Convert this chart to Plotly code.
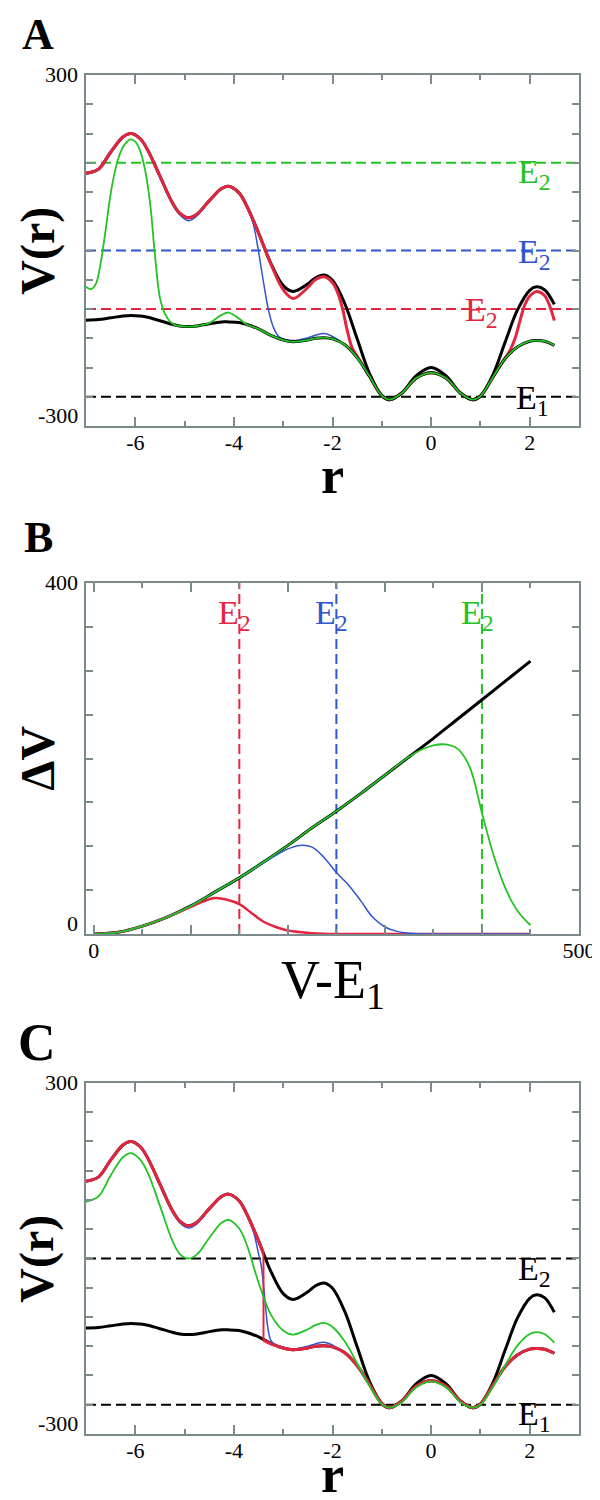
import plotly.graph_objects as go

# ---------------- panels A and C: potential along r ----------------
R = [-7, -6.75, -6.5, -6.25, -6.09, -5.9, -5.75, -5.5, -5.25, -5.1, -4.92, -4.75,
     -4.5, -4.25, -4.11, -3.9, -3.75, -3.5, -3.25, -3, -2.8, -2.5, -2.35, -2.17,
     -2, -1.75, -1.5, -1.25, -1, -0.85, -0.6, -0.3, 0, 0.3, 0.6, 0.85, 1, 1.25,
     1.5, 1.75, 2, 2.14, 2.3, 2.5]
# original potential (upper black)
V_BARE = [132, 139, 168, 194, 200, 191, 172, 127, 82, 64, 56, 62, 85, 106, 110, 99,
          78, 30, -22, -60, -70, -57, -47, -42, -51, -91, -151, -210, -248, -255,
          -244, -214, -200, -214, -244, -255, -249, -213, -157, -102, -68, -62, -67, -92]
# fully boosted potential (lower black)
V_FLAT = [-119, -118, -115, -112, -111, -112, -114, -120, -126, -129, -130, -129,
          -125, -122, -122, -123, -126, -134, -145, -153, -156, -153, -150, -149,
          -151, -161, -183, -215, -248, -255, -244, -218, -209, -218, -244, -255,
          -249, -217, -185, -165, -155, -154, -155, -162]

# panel A, E2 = -100 (red)
A_RED_R = [-7, -6.75, -6.5, -6.25, -6.09, -5.9, -5.75, -5.5, -5.25, -5.1, -4.92, -4.75,
           -4.5, -4.25, -4.11, -3.9, -3.75, -3.5, -3.25, -3, -2.8, -2.5, -2.35, -2.17,
           -2, -1.9, -1.8, -1.7, -1.6, -1.5, -1.4, -1.25, -1, -0.85, -0.6, -0.3, 0,
           0.3, 0.6, 0.85, 1, 1.25, 1.4, 1.5, 1.6, 1.7, 1.8, 1.9, 2, 2.14, 2.3, 2.5]
A_RED_V = [132, 139, 168, 194, 200, 191, 172, 127, 82, 64, 56, 62, 85, 106, 110, 99,
           78, 30, -23, -67, -82, -63, -50, -45, -55, -71, -98, -137, -167, -181,
           -194, -215, -248, -255, -244, -218, -209, -218, -244, -255, -249, -217,
           -197, -184, -171, -151, -121, -93, -78, -70, -77, -120]
# panel A, E2 = 0 (blue)
A_BLUE_R = [-7, -6.75, -6.5, -6.25, -6.09, -5.9, -5.75, -5.5, -5.25, -5.1, -4.92, -4.75,
            -4.5, -4.25, -4.11, -3.9, -3.8, -3.7, -3.6, -3.5, -3.4, -3.3, -3.2, -3.1,
            -3, -2.8, -2.5, -2.35, -2.17, -2, -1.75, -1.5, -1.25, -1, -0.85, -0.6,
            -0.3, 0, 0.3, 0.6, 0.85, 1, 1.25, 1.5, 1.75, 2, 2.14, 2.3, 2.5]
A_BLUE_V = [132, 139, 168, 194, 200, 191, 172, 127, 81, 61, 51, 59, 85, 106, 110, 99,
            86, 68, 43, -2, -54, -101, -131, -146, -151, -154, -149, -145, -142, -147,
            -161, -183, -215, -248, -255, -244, -218, -209, -218, -244, -255, -249,
            -217, -185, -165, -155, -154, -155, -162]
# panel A, E2 = 150 (green)
A_GREEN_R = [-7, -6.9, -6.8, -6.7, -6.6, -6.5, -6.4, -6.3, -6.2, -6.1, -6, -5.9, -5.8,
             -5.7, -5.6, -5.5, -5.4, -5.3, -5.2, -5.1, -4.92, -4.75, -4.5, -4.25, -4.11,
             -3.9, -3.75, -3.5, -3.25, -3, -2.8, -2.5, -2.35, -2.17, -2, -1.75, -1.5,
             -1.25, -1, -0.85, -0.6, -0.3, 0, 0.3, 0.6, 0.85, 1, 1.25, 1.5, 1.75, 2,
             2.14, 2.3, 2.5]
A_GREEN_V = [-62, -66, -57, -20, 36, 97, 140, 168, 183, 190, 186, 170, 137, 81, -9, -81,
             -108, -121, -127, -129, -130, -129, -124, -110, -106, -116, -126, -134,
             -145, -153, -156, -153, -150, -149, -151, -161, -183, -215, -248, -255,
             -244, -218, -209, -218, -244, -255, -249, -217, -185, -165, -155, -154,
             -155, -162]

# panel C, red: bare potential above E2, flat below (vertical step)
C_RED_UP_R = [-7, -6.75, -6.5, -6.25, -6.09, -5.9, -5.75, -5.5, -5.25, -5.1, -4.92,
              -4.75, -4.5, -4.25, -4.11, -3.9, -3.75, -3.5, -3.4]
C_RED_UP_V = [132, 139, 168, 194, 200, 191, 172, 127, 82, 64, 56, 62, 85, 106, 110,
              99, 78, 30, 8]
C_RED_LOW_R = [-3.4, -3.25, -3, -2.8, -2.5, -2.35, -2.17, -2, -1.75, -1.5, -1.25, -1,
               -0.85, -0.6, -0.3, 0, 0.3, 0.6, 0.85, 1, 1.25, 1.5, 1.75, 2, 2.14, 2.3, 2.5]
C_RED_LOW_V = [-140, -146, -153, -156, -153, -150, -149, -151, -161, -183, -215, -248,
               -255, -244, -218, -209, -218, -244, -255, -249, -217, -185, -165, -155,
               -154, -155, -162]
# panel C, blue
C_BLUE_R = [-7, -6.75, -6.5, -6.25, -6.09, -5.9, -5.75, -5.5, -5.25, -5.1, -4.92, -4.75,
            -4.5, -4.25, -4.11, -3.9, -3.8, -3.7, -3.6, -3.5, -3.45, -3.4, -3.35, -3.3,
            -3.25, -3.2, -3.1, -3, -2.8, -2.5, -2.35, -2.17, -2, -1.75, -1.5, -1.25,
            -1, -0.85, -0.6, -0.3, 0, 0.3, 0.6, 0.85, 1, 1.25, 1.5, 1.75, 2, 2.14, 2.3, 2.5]
C_BLUE_V = [132, 139, 168, 194, 200, 191, 172, 127, 81, 61, 52, 59, 85, 106, 110, 99,
            85, 66, 45, 8, -10, -45, -90, -125, -140, -145, -150, -153, -155, -150,
            -146, -143, -148, -161, -183, -215, -248, -255, -244, -218, -209, -218,
            -244, -255, -249, -217, -185, -165, -155, -154, -155, -162]
# panel C, green (on the R grid)
C_GREEN_V = [97, 106, 142, 173, 180, 169, 147, 90, 31, 8, 0, 7, 35, 61, 66, 52, 26,
             -41, -96, -123, -130, -121, -114, -110, -117, -142, -179, -218, -249,
             -255, -246, -220, -210, -220, -246, -255, -250, -220, -183, -149, -129,
             -126, -129, -144]

# ---------------- panel B: boost dV against V - E1 ----------------
D = [0, 25, 50, 75, 100, 125, 150, 175, 200, 225, 250, 275, 300, 325, 350, 375, 400,
     425, 450]
DV_FLAT = [0, 2, 9, 19, 32, 48, 64, 82, 101, 121, 140, 160, 181, 202, 223, 245, 267,
           289, 311]
B_RED_D = [0, 25, 50, 75, 100, 112.5, 125, 137.5, 150, 162.5, 175, 187.5, 200, 225,
           250, 300, 350, 400, 450]
B_RED_DV = [0, 2, 9, 19, 31, 37, 41, 39, 34, 24, 14, 8, 4, 1, 0, 0, 0, 0, 0]
B_BLUE_D = [0, 25, 50, 75, 100, 125, 150, 175, 200, 212.5, 225, 237.5, 250, 262.5,
            275, 287.5, 300, 312.5, 325, 350, 400, 450]
B_BLUE_DV = [0, 2, 9, 19, 32, 48, 64, 81, 97, 101, 99, 87, 70, 56, 38, 19, 8, 3, 1, 0,
             0, 0]
B_GREEN_D = [0, 25, 50, 75, 100, 125, 150, 175, 200, 225, 250, 275, 300, 325, 337.5,
             350, 362.5, 375, 387.5, 400, 412.5, 425, 437.5, 450]
B_GREEN_DV = [0, 2, 9, 19, 32, 48, 64, 82, 101, 121, 140, 160, 181, 202, 210, 215,
              216, 211, 190, 138, 88, 50, 25, 10]

# threshold levels
E_A = [150, 0, -100, -250]
E_A_TEXT = ["E<sub>2</sub>", "E<sub>2</sub>", "E<sub>2</sub>", "E<sub>1</sub>"]
E_B = [150, 250, 400]
E_C = [0, -250]
E_C_TEXT = ["E<sub>2</sub>", "E<sub>1</sub>"]

# ticks
R_TICKS = [-6, -4, -2, 0, 2]
R_TICKTEXT = ["-6", "-4", "-2", "0", "2"]
V_TICKS = [-250, -200, -150, -100, -50, 0, 50, 100, 150, 200, 250]
V_LABELS = [300, -300]
D_TICKS = [0, 100, 200, 300, 400, 500]
D_TICKTEXT = ["0", "", "", "", "", "500"]
DV_TICKS = [50, 100, 150, 200, 250, 300, 350]
DV_LABELS = [400, 0]

SERIF = "Liberation Serif"
FRAME = "#7b8b8b"
BLACK = "#000000"
RED = "#e3263f"
BLUE = "#2f55cf"
GREEN = "#22c322"
DASH = "10px,5px"

fig = go.Figure()


def add_curve(x, y, color, width, xa, ya, shape="spline"):
    fig.add_trace(go.Scatter(x=x, y=y, mode="lines", xaxis=xa, yaxis=ya,
                             line=dict(color=color, width=width, shape=shape),
                             hoverinfo="skip", showlegend=False))


# panel A
add_curve(R, V_BARE, BLACK, 3, "x", "y")
add_curve(A_BLUE_R, A_BLUE_V, BLUE, 1.5, "x", "y")
add_curve(A_RED_R, A_RED_V, RED, 3, "x", "y")
add_curve(R, V_FLAT, BLACK, 3, "x", "y")
add_curve(A_GREEN_R, A_GREEN_V, GREEN, 1.8, "x", "y")

# panel B
add_curve(D, DV_FLAT, BLACK, 3, "x2", "y2")
add_curve(B_RED_D, B_RED_DV, RED, 2.5, "x2", "y2")
add_curve(B_BLUE_D, B_BLUE_DV, BLUE, 1.5, "x2", "y2")
add_curve(B_GREEN_D, B_GREEN_DV, GREEN, 1.8, "x2", "y2")

# panel C
add_curve(R, V_BARE, BLACK, 3, "x3", "y3")
add_curve(R, V_FLAT, BLACK, 3, "x3", "y3")
add_curve(C_BLUE_R, C_BLUE_V, BLUE, 1.5, "x3", "y3")
add_curve(C_RED_UP_R, C_RED_UP_V, RED, 3, "x3", "y3")
add_curve([C_RED_UP_R[-1], C_RED_LOW_R[0]], [C_RED_UP_V[-1], C_RED_LOW_V[0]], RED, 2,
          "x3", "y3", shape="linear")
add_curve(C_RED_LOW_R, C_RED_LOW_V, RED, 3, "x3", "y3")
add_curve(R, C_GREEN_V, GREEN, 1.8, "x3", "y3")

# dashed threshold lines
for e, col in zip(E_A, [GREEN, BLUE, RED, BLACK]):
    fig.add_shape(type="line", xref="x domain", yref="y", x0=0, x1=1, y0=e, y1=e,
                  line=dict(color=col, width=2, dash=DASH), layer="below")
for e, col in zip(E_B, [RED, BLUE, GREEN]):
    fig.add_shape(type="line", xref="x2", yref="y2 domain", x0=e, x1=e, y0=0, y1=1,
                  line=dict(color=col, width=2, dash=DASH), layer="below")
for e in E_C:
    fig.add_shape(type="line", xref="x3 domain", yref="y3", x0=0, x1=1, y0=e, y1=e,
                  line=dict(color=BLACK, width=2, dash=DASH), layer="below")


def note(text, x, y, xref, yref, size, color=BLACK, xanchor="center",
         yanchor="middle", **kw):
    fig.add_annotation(text=text, x=x, y=y, xref=xref, yref=yref, showarrow=False,
                       xanchor=xanchor, yanchor=yanchor,
                       font=dict(family=SERIF, size=size, color=color), **kw)


# threshold labels
for txt, col, xr, yc in zip(E_A_TEXT, [GREEN, BLUE, RED, BLACK],
                            [2.48, 2.48, 1.4, 2.44], [130, -6, -105, -256]):
    note(txt, xr, yc, "x", "y", 34, col, xanchor="right")
for e, col in zip(E_B, [RED, BLUE, GREEN]):
    note("E<sub>2</sub>", e - 5, 364, "x2", "y2", 34, col)
for txt, yc in zip(E_C_TEXT, [-22, -270]):
    note(txt, 2.48, yc, "x3", "y3", 34, BLACK, xanchor="right")

# y tick labels at the ends of the axes
for xa, ya, labels in [("x", "y", V_LABELS), ("x2", "y2", DV_LABELS),
                       ("x3", "y3", V_LABELS)]:
    note(str(labels[0]), 0, labels[0], xa + " domain", ya, 22, xanchor="right",
         yanchor="top", xshift=-6, yshift=15)
    note(str(labels[1]), 0, labels[1], xa + " domain", ya, 22, xanchor="right",
         yanchor="bottom", xshift=-6, yshift=-4)

# panel letters and axis titles
panels = [("y", "A", 44, -0.098, 1.115, "V(r)", "<b>r</b>", -0.14),
          ("y2", "B", 44, -0.096, 1.131, "ΔV", "V-E<sub>1</sub>", -0.14),
          ("y3", "C", 52, -0.1, 1.114, "V(r)", "<b>r</b>", -0.115)]
for ya, letter, lsize, lx, ly, ytitle, xtitle, xty in panels:
    xa = "x" + ya[1:]
    note("<b>" + letter + "</b>", lx, ly, "paper", ya + " domain", lsize)
    note("<b>" + ytitle + "</b>", -0.099, 0.5, "paper", ya + " domain", 48,
         textangle=-90)
    note(xtitle, 0.5, xty, xa + " domain", ya + " domain",
         54 if "V" in xtitle else 52)

axis = dict(showline=True, linecolor=FRAME, linewidth=1.5, mirror="ticks",
            ticks="inside", tickcolor=FRAME, tickwidth=1.5, showgrid=False,
            zeroline=False, fixedrange=True,
            tickfont=dict(family=SERIF, size=22, color=BLACK))
r_axis = dict(axis, range=[-7, 3], tickvals=R_TICKS, ticktext=R_TICKTEXT, ticklen=9,
              ticklabelstandoff=-4,
              minor=dict(dtick=1, tick0=0, ticklen=5, ticks="inside",
                         tickcolor=FRAME, tickwidth=1.5, showgrid=False))
v_axis = dict(axis, range=[-300, 300], tickvals=V_TICKS, ticklen=7,
              showticklabels=False)

fig.update_layout(
    width=600, height=1500,
    margin=dict(l=78, r=23, t=67, b=74),
    plot_bgcolor="white", paper_bgcolor="white", showlegend=False,
    xaxis=dict(r_axis, anchor="y"),
    yaxis=dict(v_axis, domain=[0.7417, 1.0], anchor="x"),
    xaxis2=dict(axis, anchor="y2", range=[-8, 500], tickvals=D_TICKS,
                ticktext=D_TICKTEXT, ticklen=9, ticklabelstandoff=-4,
                minor=dict(dtick=50, tick0=0, ticklen=5, ticks="inside",
                           tickcolor=FRAME, tickwidth=1.5, showgrid=False)),
    yaxis2=dict(axis, domain=[0.3679, 0.6262], anchor="x2", range=[0, 400],
                tickvals=DV_TICKS, ticklen=7, showticklabels=False),
    xaxis3=dict(r_axis, anchor="y3"),
    yaxis3=dict(v_axis, domain=[0.0, 0.2583], anchor="x3"),
)

fig.write_html("out.html")
